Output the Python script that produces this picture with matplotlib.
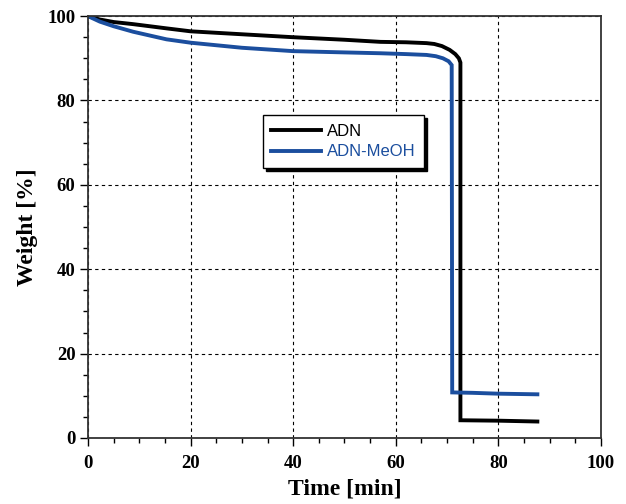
import matplotlib
matplotlib.use("Agg")
import matplotlib.pyplot as plt
from matplotlib.ticker import MultipleLocator

# TGA curves: weight loss over time
adn_time = [0, 2.3, 5, 8.8, 15.3, 20, 30, 40, 50, 57, 62, 66, 67.5, 69, 70.5, 71.6, 72.3, 72.6, 72.6, 80, 87.6]
adn_weight = [100, 99.2, 98.6, 98.1, 97.1, 96.4, 95.7, 95.0, 94.4, 93.9, 93.8, 93.6, 93.4, 92.9, 92.0, 91.0, 90.0, 89.0, 4.2, 4.1, 3.9]

meoh_time = [0, 2.3, 5, 8.8, 15.3, 20, 30, 40, 50, 57, 62, 66, 67.8, 69.2, 70.3, 70.9, 71.0, 75, 80, 87.6]
meoh_weight = [100, 98.7, 97.6, 96.3, 94.5, 93.7, 92.5, 91.7, 91.4, 91.2, 91.0, 90.8, 90.5, 90.0, 89.3, 88.4, 10.8, 10.7, 10.5, 10.35]

series_labels = ["ADN", "ADN-MeOH"]
x_ticks = [0, 20, 40, 60, 80, 100]
y_ticks = [0, 20, 40, 60, 80, 100]

blue = "#1b4e9e"

fig = plt.figure(figsize=(6.26, 5.04), dpi=100)
ax = fig.add_axes([0.1406, 0.131, 0.8194, 0.837])

ax.plot(adn_time, adn_weight, color="black", lw=2.8, label=series_labels[0],
        solid_joinstyle="miter")
ax.plot(meoh_time, meoh_weight, color=blue, lw=2.8, label=series_labels[1],
        solid_joinstyle="miter")

ax.set_xlim(0, 100)
ax.set_ylim(0, 100)
ax.set_xticks(x_ticks)
ax.set_yticks(y_ticks)
ax.xaxis.set_minor_locator(MultipleLocator(5))
ax.yaxis.set_minor_locator(MultipleLocator(5))

ax.grid(True, which="major", color="black", linestyle=(0, (3, 3)), linewidth=0.8)
ax.set_axisbelow(True)

for side in ["left", "bottom", "top", "right"]:
    ax.spines[side].set_color("#333333")
    ax.spines[side].set_linewidth(1.3)

ax.tick_params(which="major", direction="out", length=6, width=1, color="black",
               top=False, right=False)
ax.tick_params(which="minor", direction="out", length=3.5, width=1, color="black",
               top=False, right=False)

tick_font = {"family": "Liberation Serif", "weight": "bold", "size": 13.5}
ax.set_xticklabels([str(v) for v in x_ticks], fontdict=tick_font)
ax.set_yticklabels([str(v) for v in y_ticks], fontdict=tick_font)
ax.tick_params(axis="x", pad=6)
ax.tick_params(axis="y", pad=3)

label_font = {"family": "Liberation Serif", "weight": "bold", "size": 17}
ax.set_xlabel("Time [min]", fontdict=label_font, labelpad=5)
ax.set_ylabel("Weight [%]", fontdict=label_font, labelpad=7)

leg = ax.legend(loc="upper left", bbox_to_anchor=(0.341, 0.765),
                prop={"family": "Liberation Sans", "size": 12},
                frameon=True, fancybox=False, shadow={"color": "black", "alpha": 1},
                handlelength=3.0, handletextpad=0.35, borderpad=0.5,
                labelspacing=0.35, borderaxespad=0)
leg.get_frame().set_edgecolor("black")
leg.get_frame().set_linewidth(1.0)
leg.get_frame().set_alpha(1)
for txt, col in zip(leg.get_texts(), ["black", blue]):
    txt.set_color(col)

fig.savefig("out.png", dpi=100)
